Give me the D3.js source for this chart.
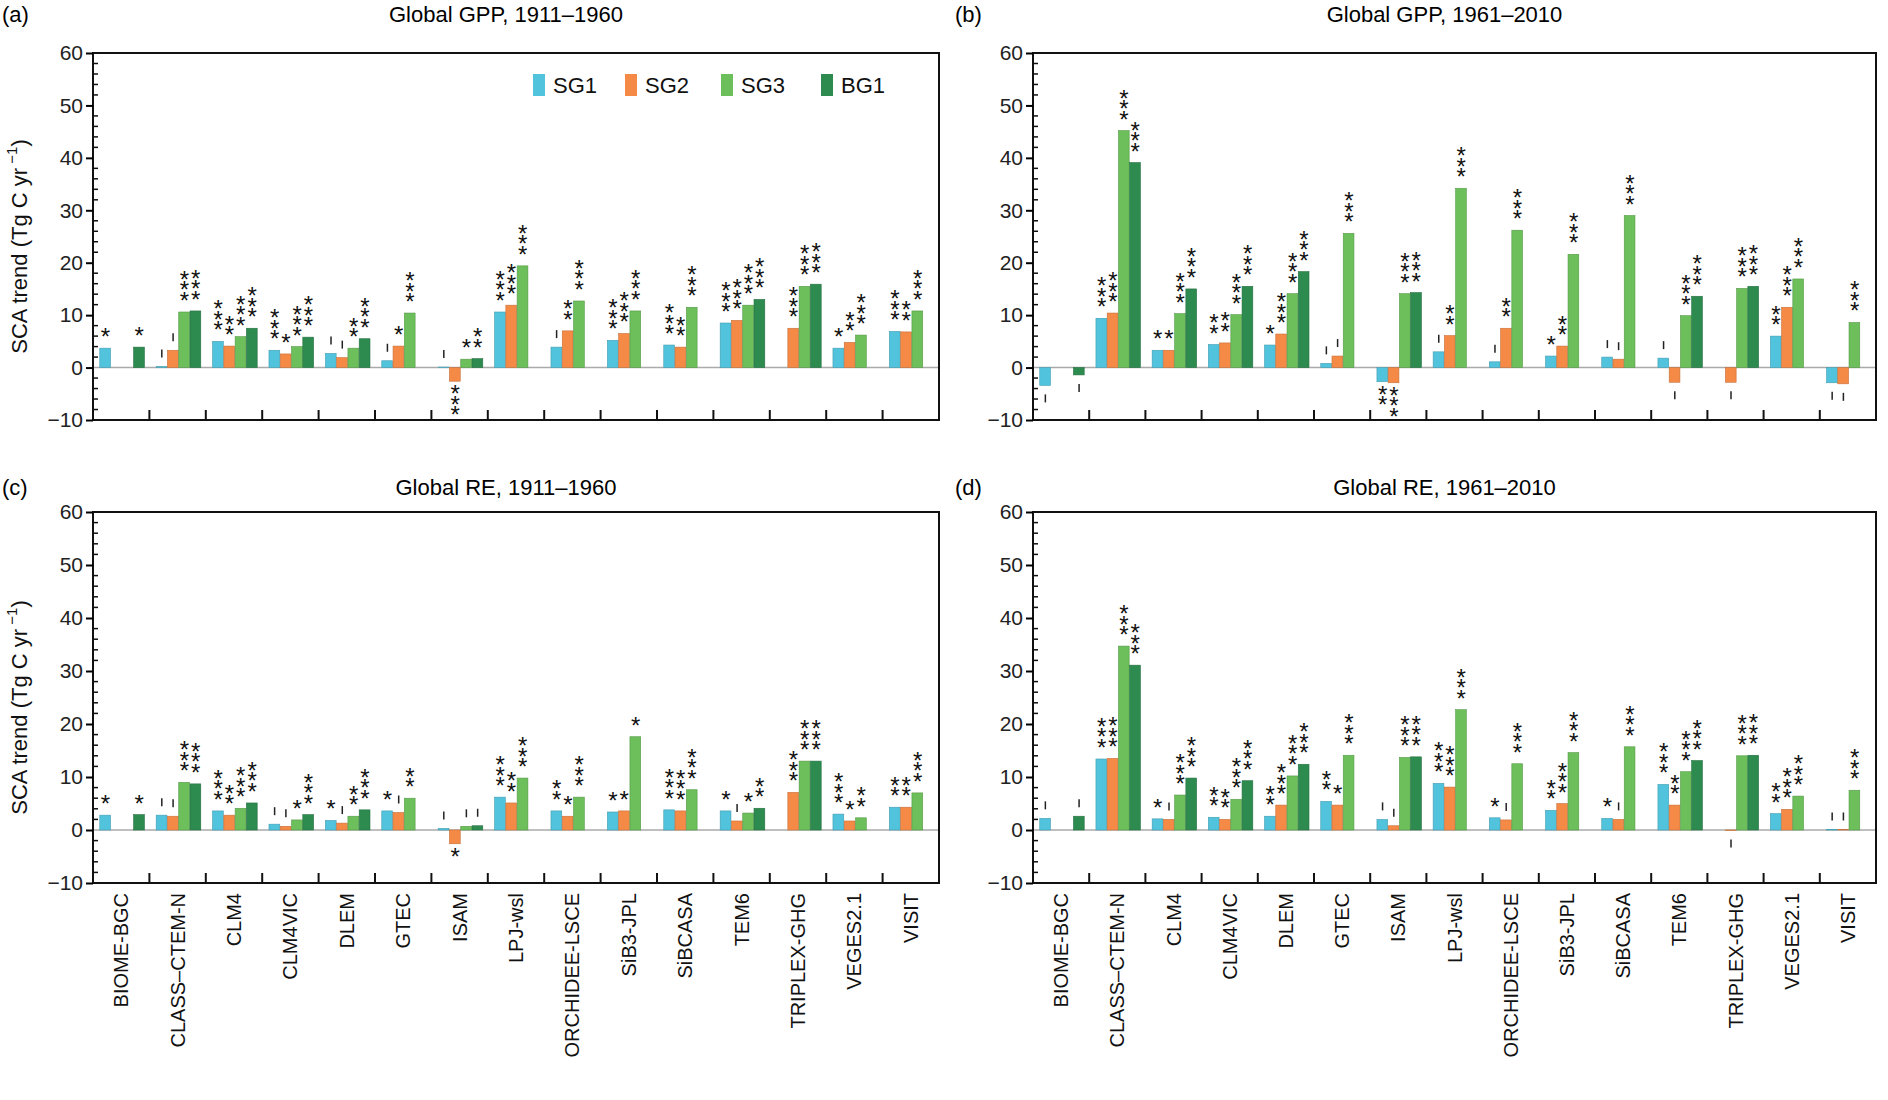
<!DOCTYPE html>
<html>
<head>
<meta charset="utf-8">
<script src="https://cdn.jsdelivr.net/npm/d3@7"></script>
<style>
  body { margin: 0; background: #fff; }
  text { font-family: "Liberation Sans", Arial, sans-serif; }
</style>
</head>
<body>
<svg id="chart" width="1888" height="1100"></svg>
<script>
// model names (x categories)
const models = ["BIOME-BGC", "CLASS\u2013CTEM-N", "CLM4", "CLM4VIC", "DLEM", "GTEC", "ISAM", "LPJ-wsl",
  "ORCHIDEE-LSCE", "SiB3-JPL", "SiBCASA", "TEM6", "TRIPLEX-GHG", "VEGES2.1", "VISIT"];
const seriesNames = ["SG1", "SG2", "SG3", "BG1"];
const colors = ["#52c3dc", "#f58a46", "#6cbf5a", "#2e8b50"];
const yTicks = [-10, 0, 10, 20, 30, 40, 50, 60];

// values per model: [SG1, SG2, SG3, BG1]; null = not simulated
const gpp1 = [[3.7,null,null,3.9],[0.2,3.3,10.6,10.8],[5.0,4.1,5.9,7.5],[3.3,2.6,4.0,5.8],[2.7,1.9,3.7,5.5],
  [1.3,4.1,10.4,null],[0.1,-2.6,1.6,1.7],[10.6,11.9,19.4,null],[3.9,7.0,12.7,null],[5.2,6.5,10.8,null],
  [4.3,3.9,11.5,null],[8.5,9.0,11.9,13.0],[null,7.5,15.5,15.9],[3.7,4.8,6.2,null],[6.9,6.8,10.8,null]];
const gpp1Sig = [["*","","","*"],["'","'","***","***"],["***","**","***","***"],["***","*","***","***"],["'","'","**","***"],
  ["'","*","***",""],["'","***","*","**"],["***","***","***",""],["'","**","***",""],["***","***","***",""],
  ["***","**","***",""],["***","***","***","***"],["","***","***","***"],["*","**","***",""],["***","**","***",""]];

const gpp2 = [[-3.4,null,null,-1.4],[9.4,10.4,45.2,39.1],[3.3,3.3,10.3,15.0],[4.4,4.7,10.1,15.5],[4.3,6.4,14.1,18.3],
  [0.8,2.2,25.6,null],[-2.7,-2.9,14.1,14.3],[3.0,6.1,34.2,null],[1.1,7.5,26.2,null],[2.2,4.1,21.6,null],
  [2.0,1.6,29.0,null],[1.8,-2.8,9.9,13.6],[null,-2.8,15.1,15.5],[6.0,11.5,16.9,null],[-2.9,-3.1,8.6,null]];
const gpp2Sig = [["'","","","'"],["***","***","***","***"],["*","*","***","***"],["**","**","***","***"],["*","***","***","***"],
  ["'","'","***",""],["**","***","***","***"],["'","**","***",""],["'","**","***",""],["*","**","***",""],
  ["'","'","***",""],["'","'","***","***"],["","'","***","***"],["**","***","***",""],["'","'","***",""]];

const re1 = [[2.8,null,null,2.9],[2.8,2.6,9.0,8.7],[3.6,2.8,4.1,5.1],[1.1,0.7,1.9,2.9],[1.8,1.3,2.6,3.8],
  [3.6,3.3,6.0,null],[0.3,-2.6,0.7,0.8],[6.2,5.1,9.8,null],[3.6,2.6,6.2,null],[3.4,3.6,17.6,null],
  [3.8,3.6,7.6,null],[3.6,1.7,3.2,4.1],[null,7.1,13.0,13.0],[3.0,1.7,2.3,null],[4.3,4.3,7.0,null]];
const re1Sig = [["*","","","*"],["'","'","***","***"],["***","**","***","***"],["'","'","*","***"],["*","'","**","***"],
  ["*","'","**",""],["'","*","'","'"],["***","**","***",""],["**","*","***",""],["*","*","*",""],
  ["***","***","***",""],["*","'","*","**"],["","***","***","***"],["***","*","**",""],["**","**","***",""]];

const re2 = [[2.2,null,null,2.6],[13.4,13.5,34.7,31.1],[2.1,2.0,6.6,9.8],[2.4,2.0,5.8,9.3],[2.6,4.7,10.2,12.4],
  [5.4,4.7,14.1,null],[2.0,0.8,13.7,13.8],[8.8,8.1,22.7,null],[2.3,1.9,12.5,null],[3.7,5.0,14.6,null],
  [2.2,2.0,15.7,null],[8.6,4.7,11.0,13.1],[null,-0.1,14.0,14.1],[3.1,3.9,6.4,null],[0.1,0.1,7.5,null]];
const re2Sig = [["'","","","'"],["***","***","***","***"],["*","'","***","***"],["**","**","***","***"],["**","***","***","***"],
  ["**","*","***",""],["'","'","***","***"],["***","***","***",""],["*","'","***",""],["**","***","***",""],
  ["*","'","***",""],["***","**","***","***"],["","'","***","***"],["**","***","***",""],["'","'","***",""]];

const panels = [
  {tag: "(a)", title: "Global GPP, 1911\u20131960", vals: gpp1, sig: gpp1Sig, x0: 93, x1: 939, y0: 53, y1: 420, ty: 22, tagX: 2, legend: true, ylab: true, xlab: false},
  {tag: "(b)", title: "Global GPP, 1961\u20132010", vals: gpp2, sig: gpp2Sig, x0: 1033, x1: 1876, y0: 53, y1: 420, ty: 22, tagX: 955, legend: false, ylab: false, xlab: false},
  {tag: "(c)", title: "Global RE, 1911\u20131960", vals: re1, sig: re1Sig, x0: 93, x1: 939, y0: 512, y1: 883, ty: 495, tagX: 2, legend: false, ylab: true, xlab: true},
  {tag: "(d)", title: "Global RE, 1961\u20132010", vals: re2, sig: re2Sig, x0: 1033, x1: 1876, y0: 512, y1: 883, ty: 495, tagX: 955, legend: false, ylab: false, xlab: true}
];

const svg = d3.select("#chart");

panels.forEach(p => {
  const g = svg.append("g");
  const x = d3.scaleBand().domain(models).range([p.x0, p.x1]);
  const y = d3.scaleLinear().domain([-10, 60]).range([p.y1, p.y0]);
  const gw = x.bandwidth();
  const bw = gw * 0.2;
  const xs = d3.scaleBand().domain(seriesNames).range([gw * 0.12, gw * 0.12 + bw * 4]);

  g.append("text").attr("x", p.tagX).attr("y", p.ty).attr("font-size", 22).text(p.tag);
  g.append("text").attr("x", (p.x0 + p.x1) / 2 - 10).attr("y", p.ty).attr("font-size", 22)
    .attr("text-anchor", "middle").text(p.title);

  // zero line
  g.append("line").attr("x1", p.x0).attr("x2", p.x1).attr("y1", y(0)).attr("y2", y(0))
    .attr("stroke", "#aaa").attr("stroke-width", 1.5);

  // bars + significance
  p.vals.forEach((row, i) => {
    row.forEach((v, j) => {
      if (v === null) return;
      const bx = x(models[i]) + xs(seriesNames[j]);
      g.append("rect").attr("x", bx).attr("width", bw - 0.5)
        .attr("y", y(Math.max(0, v))).attr("height", Math.abs(y(v) - y(0)))
        .attr("fill", colors[j]).attr("stroke", d3.color(colors[j]).darker(0.6)).attr("stroke-width", 0.6);
      const s = p.sig[i][j];
      if (!s) return;
      const cx = bx + bw / 2;
      const dir = v >= 0 ? -1 : 1;
      const base = y(v) + dir * 4;
      if (s === "'") {
        const yy = base + dir * 9;
        g.append("line").attr("x1", cx).attr("x2", cx).attr("y1", yy - 4).attr("y2", yy + 4)
          .attr("stroke", "#222").attr("stroke-width", 1.5);
      } else {
        for (let k = 0; k < s.length; k++) {
          g.append("text").attr("x", cx).attr("y", base + dir * (8 + k * 10.5) + 9)
            .attr("text-anchor", "middle").attr("font-size", 24).attr("fill", "#111").text("*");
        }
      }
    });
  });

  // frame
  g.append("rect").attr("x", p.x0).attr("y", p.y0).attr("width", p.x1 - p.x0).attr("height", p.y1 - p.y0)
    .attr("fill", "none").attr("stroke", "#111").attr("stroke-width", 2);

  // y axis
  const ya = g.append("g").attr("transform", `translate(${p.x0},0)`)
    .call(d3.axisLeft(y).tickValues(yTicks).tickSize(7).tickFormat(d => d < 0 ? "\u2212" + Math.abs(d) : d));
  ya.select(".domain").remove();
  ya.selectAll("text").attr("font-size", 21).attr("fill", "#222").attr("font-family", "Liberation Sans, Arial");
  ya.selectAll("line").attr("stroke-width", 2);
  const minor = d3.range(-10, 61, 2).filter(d => d % 10 !== 0);
  g.selectAll(".minor").data(minor).enter().append("line")
    .attr("x1", p.x0).attr("x2", p.x0 + 5).attr("y1", d => y(d)).attr("y2", d => y(d))
    .attr("stroke", "#111").attr("stroke-width", 1.5);

  // x group separator ticks
  g.selectAll(".sep").data(models.slice(1)).enter().append("line")
    .attr("x1", d => x(d)).attr("x2", d => x(d)).attr("y1", p.y1).attr("y2", p.y1 - 10)
    .attr("stroke", "#111").attr("stroke-width", 2);

  if (p.xlab) {
    models.forEach(m => {
      const cx = x(m) + gw / 2;
      g.append("text").attr("transform", `translate(${cx + 7},${p.y1 + 10}) rotate(-90)`)
        .attr("text-anchor", "end").attr("font-size", 20).attr("fill", "#111").text(m);
    });
  }

  if (p.ylab) {
    g.append("text").attr("transform", `translate(27,${(p.y0 + p.y1) / 2 + 10}) rotate(-90)`)
      .attr("text-anchor", "middle").attr("font-size", 22).attr("fill", "#111")
      .html('SCA trend (Tg C yr<tspan dy="-10" font-size="15"> \u22121</tspan><tspan dy="10">)</tspan>');
  }

  if (p.legend) {
    const lx = [533, 625, 721, 821];
    seriesNames.forEach((s, j) => {
      g.append("rect").attr("x", lx[j]).attr("y", 74).attr("width", 12).attr("height", 22).attr("fill", colors[j]);
      g.append("text").attr("x", lx[j] + 20).attr("y", 93).attr("font-size", 22).attr("fill", "#111").text(s);
    });
  }
});
</script>
</body>
</html>
